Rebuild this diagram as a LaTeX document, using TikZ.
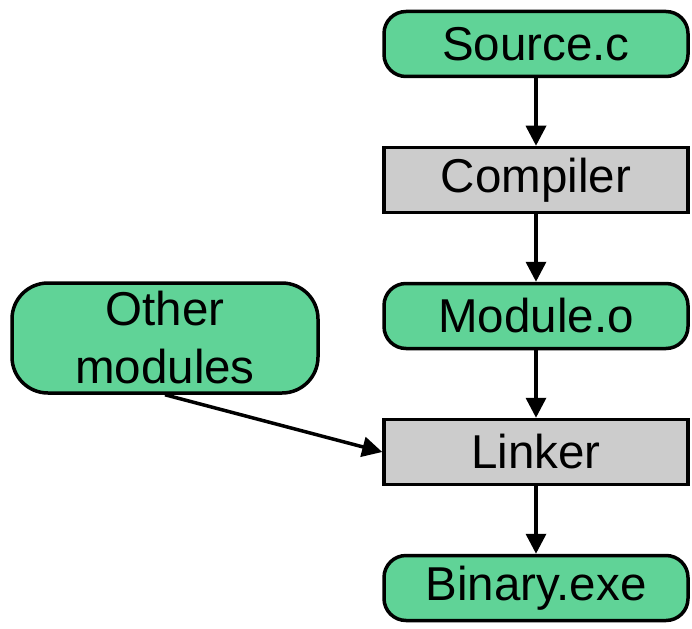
\documentclass[tikz,border=0pt]{standalone}
\usepackage{fontspec}
\setmainfont{Liberation Sans}
\usetikzlibrary{arrows.meta}
\definecolor{fileGreen}{RGB}{96,211,151}
\definecolor{toolGray}{RGB}{204,204,204}
\def \boxWidth {304pt}
\def \boxHeight {65pt}
\def \lineWidth {3.5pt}
\begin{document}
\begin{tikzpicture}[x=1pt, y=-1pt,
    file/.style={draw, line width=\lineWidth, fill=fileGreen, rounded corners=22pt,
      minimum width=\boxWidth, minimum height=\boxHeight, inner sep=0pt,
      font=\fontsize{47.5}{58}\selectfont},
    tool/.style={file, fill=toolGray, sharp corners},
    flow/.style={-{Triangle[length=20pt,width=20pt]}, line width=\lineWidth}]
   \useasboundingbox (0,0) rectangle (692,628);
   \node[file] (source) at (536,44) {Source.c};
   \node[tool] (compiler) at (536,180) {Compiler};
   \node[file] (module) at (536,316) {Module.o};
   \node[tool] (linker) at (536,452) {Linker};
   \node[file] (binary) at (536,588) {Binary.exe};
   \node[file, align=center, minimum width=306pt, minimum height=110pt, rounded corners=36pt] (other) at (165,338) {Other\\modules};
   \draw[flow] (source) -- (compiler);
   \draw[flow] (compiler) -- (module);
   \draw[flow] (module) -- (linker);
   \draw[flow] (linker) -- (binary);
   \draw[flow] (other.south) -- (linker.west);
\end{tikzpicture}
\end{document}
